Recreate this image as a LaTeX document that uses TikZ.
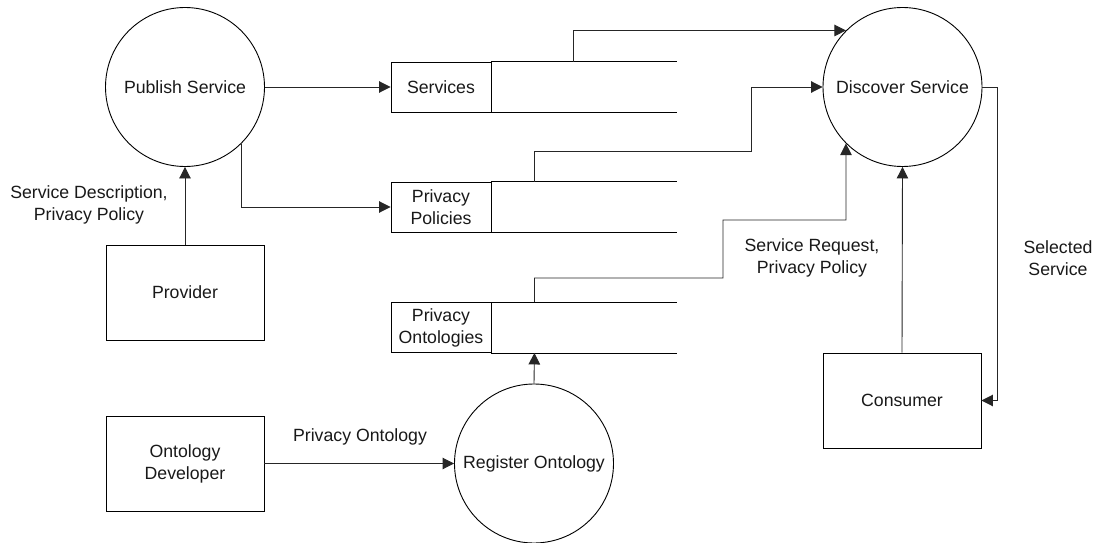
\documentclass[tikz,border=0pt]{standalone}
\usepackage{fontspec}
\setmainfont{Liberation Sans}
\usetikzlibrary{arrows.meta,calc}
\begin{document}
\begin{tikzpicture}[x=1pt,y=-1pt,
  every node/.style={font=\fontsize{17.7}{22}\selectfont, align=center, text=black!90},
  proc/.style={draw, line width=0.9pt, circle, minimum size=159pt, inner sep=0pt},
  ent/.style={draw, line width=0.9pt, rectangle, minimum width=158pt, minimum height=95pt, inner sep=0pt},
  storelbl/.style={draw, line width=0.9pt, rectangle, minimum width=100pt, minimum height=50pt, inner sep=0pt},
  storeline/.style={line width=0.9pt},
  flow/.style={line width=0.9pt, draw=black!85, -{Triangle[length=11.5pt,width=11.5pt]}},
  lbl/.style={inner sep=0pt}]
\useasboundingbox (0,0) rectangle (1096,543);

% processes
\node[proc] (pub) at (185,87) {Publish Service};
\node[proc] (dis) at (902.5,87) {Discover Service};
\node[proc] (reg) at (534,463.5) {Register Ontology};

% entities
\node[ent] (prov) at (185,292.5) {Provider};
\node[ent] (dev) at (185,463.5) {Ontology\\Developer};
\node[ent] (con) at (902,400.5) {Consumer};

% data stores
\node[storelbl] (svc) at (441,87) {Services};
\node[storelbl] (ppl) at (441,207) {Privacy\\Policies};
\node[storelbl] (pon) at (441,327.5) {Privacy\\Ontologies};
\draw[storeline] (svc.north east) -- ++(186,0) (svc.south east) -- ++(186,0);
\draw[storeline] (ppl.north east) -- ++(186,0) (ppl.south east) -- ++(186,0);
\draw[storeline] (pon.north east) -- ++(186,0) (pon.south east) -- ++(186,0);
\coordinate (svctop) at ($(svc.north east)+(82,0)$);
\coordinate (ppltop) at ($(ppl.north east)+(43,0)$);
\coordinate (pontop) at ($(pon.north east)+(43,0)$);
\coordinate (ponbot) at ($(pon.south east)+(43,0)$);

% flows
\draw[flow] (pub.east) -- (svc.west);
\draw[flow] (pub.-45) |- (ppl.west);
\draw[flow] (prov.north) -- (pub.south);
\node[lbl] (l1) at (89,205) {Service Description,\\Privacy Policy};
\draw[flow] (dev.east) -- (reg.west);
\node[lbl] (l2) at (360,437) {Privacy Ontology};
\draw[flow] (reg.north) -- (ponbot);
\draw[flow] (svctop) |- (dis.135);
\draw[flow] (ppltop) |- (751,151) |- (dis.west);
\draw[flow] (pontop) |- (723,278) |- (846,220) -- (dis.225);
\node[lbl] (l3) at (812,258) {Service Request,\\Privacy Policy};
\draw[flow] (con.north) -- (dis.south);
\draw[flow] (dis.east) -- ++(15,0) |- (con.east);
\node[lbl] (l4) at (1058,258) {Selected\\Service};
\end{tikzpicture}
\end{document}
